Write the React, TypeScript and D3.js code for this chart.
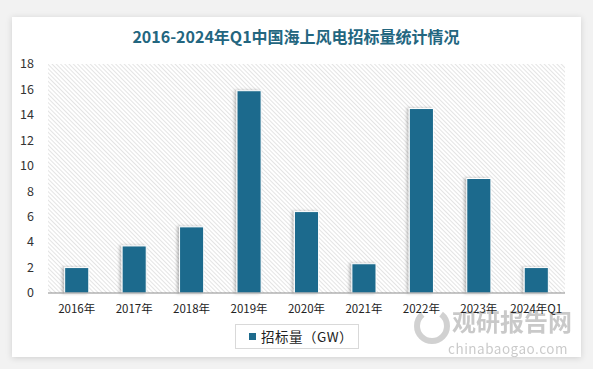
import React from "react";
import * as d3 from "d3";

const categories = ["2016年", "2017年", "2018年", "2019年", "2020年", "2021年", "2022年", "2023年", "2024年Q1"];
const values = [2.0, 3.7, 5.2, 15.9, 6.4, 2.3, 14.5, 9.0, 2.0];
const yTicks = [0, 2, 4, 6, 8, 10, 12, 14, 16, 18];
const title = "2016-2024年Q1中国海上风电招标量统计情况";
const seriesName = "招标量（GW）";

const W = 593, H = 369;
const plot = { left: 48, right: 565, top: 64, bottom: 293 };
const barColor = "#1e6b8d";
const font = "'Noto Sans CJK SC', 'Open Sans', sans-serif";

export default function App() {
  const x = d3.scaleBand<string>().domain(categories).range([plot.left, plot.right]).paddingInner(0.58).paddingOuter(0.29);
  const y = d3.scaleLinear().domain([0, 18]).range([plot.bottom, plot.top]);

  return (
    <div style={{ position: "absolute", left: 0, top: 0 }}>
      <svg width={W} height={H} style={{ display: "block" }}>
        <defs>
          <pattern id="hatch" patternUnits="userSpaceOnUse" width="3" height="3" patternTransform="rotate(-45)">
            <rect width="3" height="3" fill="#ffffff" />
            <line x1="0" y1="0" x2="0" y2="3" stroke="#c4c4c4" strokeWidth="0.9" />
          </pattern>
          <filter id="shadow" x="-5%" y="-5%" width="110%" height="110%">
            <feDropShadow dx="0" dy="1" stdDeviation="3" floodColor="#000" floodOpacity="0.15" />
          </filter>
          <filter id="barsh" x="-50%" y="-10%" width="200%" height="120%">
            <feDropShadow dx="-2" dy="0" stdDeviation="1.5" floodColor="#000" floodOpacity="0.25" />
          </filter>
        </defs>
        <rect width={W} height={H} fill="#f2f2f2" />
        <rect x={12} y={17} width={569} height={340} fill="#ffffff" filter="url(#shadow)" />
        <text x={296} y={43} textAnchor="middle" fontFamily={font} fontWeight="bold" fontSize={16} fill="#23667f">
          {title}
        </text>
        <rect x={plot.left} y={plot.top} width={plot.right - plot.left} height={plot.bottom - plot.top} fill="url(#hatch)" />
        {yTicks.map((t) => (
          <text key={t} x={34} y={y(t)} dy="0.35em" textAnchor="end" fontFamily={font} fontSize={12.5} fill="#333">
            {t}
          </text>
        ))}
        {categories.map((c, i) => (
          <rect
            key={c}
            x={x(c)}
            y={y(values[i])}
            width={x.bandwidth()}
            height={y(0) - y(values[i])}
            fill={barColor}
            stroke="#ffffff"
            strokeWidth={1}
            filter="url(#barsh)"
          />
        ))}
        <line x1={plot.left} x2={plot.right} y1={plot.bottom} y2={plot.bottom} stroke="#8c8c8c" strokeWidth={1} />
        <g opacity={0.45}>
          <circle cx={432} cy={326} r={15} fill="none" stroke="#9a9a9a" strokeWidth={6} strokeDasharray="60 20" />
          <text x={512} y={331} textAnchor="middle" fontFamily={font} fontWeight="bold" fontSize={24} fill="#8a8a8a">观研报告网</text>
          <text x={508} y={354} textAnchor="middle" fontFamily={font} fontSize={13.5} fill="#8a8a8a" letterSpacing="0.5">chinabaogao.com</text>
        </g>
        {categories.map((c) => (
          <text key={c} x={(x(c) ?? 0) + x.bandwidth() / 2} y={313} textAnchor="middle" fontFamily={font} fontSize={11.5} fill="#222">
            {c}
          </text>
        ))}
        <rect x={235.5} y={324.5} width={123} height={24} fill="#ffffff" stroke="#d9d9d9" strokeWidth={1} />
        <rect x={249} y={333} width={7} height={7} fill={barColor} />
        <text x={261} y={337} dy="0.35em" fontFamily={font} fontSize={13.5} fill="#222" letterSpacing="0.5">
          {seriesName}
        </text>
      </svg>
    </div>
  );
}
